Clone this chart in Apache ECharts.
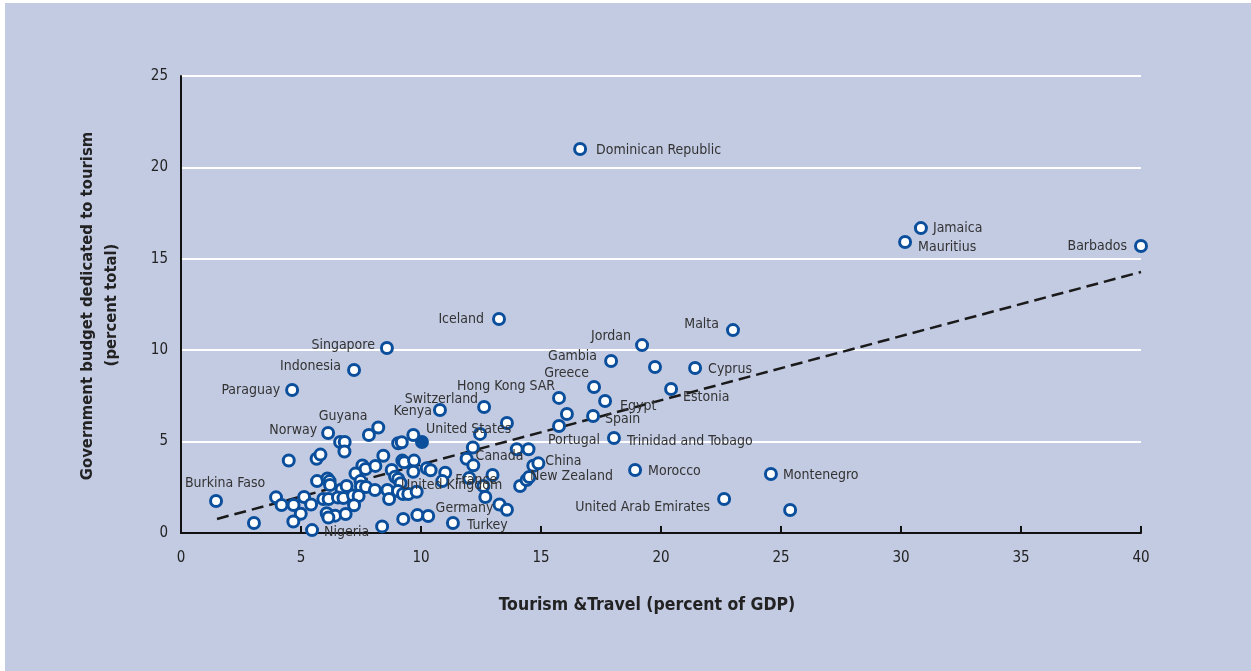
<!DOCTYPE html>
<html><head><meta charset="utf-8">
<script src="https://cdn.jsdelivr.net/npm/echarts@6/dist/echarts.min.js"></script>
<style>
html,body{margin:0;padding:0;background:#ffffff;width:1251px;height:671px;overflow:hidden}
#chart{position:absolute;left:5px;top:3px;width:1246px;height:668px;}
</style>
</head><body><div id="chart"></div>
<script>
// ---- data ----
const countries = [
 'Dominican Republic','Jamaica','Mauritius','Barbados','Iceland','Malta','Singapore','Jordan','Gambia','Indonesia',
 '','Cyprus','Paraguay','Greece','Estonia','Hong Kong SAR','Egypt','Switzerland','Kenya','Spain',
 '','','Portugal','','Trinidad and Tobago','United States','Morocco','Montenegro','United Arab Emirates','',
 'Burkina Faso','Nigeria','Turkey','','Norway','Guyana','','','','',
 '','','','','','','','','','',
 '','','','','','','','','','',
 '','','','','','','','','','',
 '','','','','','','','','','',
 '','','','','','','','','France','United Kingdom',
 '','','','','','','','','','',
 '','','Canada','','','','','China','','',
 '','','New Zealand','','','Germany',''
];
const tourismGDP = [
 16.63,30.83,30.17,40.0,13.25,23.0,8.58,19.21,17.92,7.21,
 19.75,21.42,4.63,17.21,20.42,15.75,17.67,12.63,10.79,17.17,
 16.08,13.58,15.75,12.46,18.04,10.04,18.92,24.58,22.63,25.38,
 1.46,5.46,11.33,3.04,6.13,6.63,6.82,6.81,7.83,8.22,
 4.49,5.65,5.81,7.56,7.69,8.10,7.27,5.67,6.10,6.19,
 6.21,6.69,6.90,7.48,7.50,7.71,8.08,3.96,4.19,4.69,
 5.13,5.42,5.93,6.15,6.54,6.77,7.17,7.40,7.21,4.99,
 4.68,6.07,6.42,6.86,6.14,8.38,9.68,9.05,9.20,8.43,
 9.22,9.30,9.71,8.78,9.68,10.24,10.40,11.01,10.89,8.92,
 9.05,9.15,8.60,8.67,9.04,9.25,9.47,9.82,9.26,9.85,
 10.30,12.16,11.90,12.18,13.99,14.48,14.68,14.89,12.98,12.01,
 12.60,12.68,14.13,14.40,14.51,13.27,13.58
];
const budgetShare = [
 21.01,16.68,15.92,15.70,11.71,11.10,10.12,10.28,9.41,8.92,
 9.08,9.03,7.82,7.99,7.88,7.39,7.22,6.89,6.73,6.40,
 6.51,6.02,5.85,5.42,5.20,4.98,3.45,3.23,1.86,1.26,
 1.75,0.16,0.55,0.55,5.47,4.98,4.98,4.46,5.36,5.77,
 3.97,4.06,4.29,3.69,3.50,3.67,3.25,2.84,2.98,2.84,
 2.63,2.38,2.57,2.84,2.54,2.52,2.35,1.95,1.53,1.53,
 1.97,1.56,1.86,1.86,1.94,1.91,2.05,2.02,1.52,1.05,
 0.63,1.08,0.95,1.04,0.85,0.36,5.36,4.91,4.96,4.23,
 3.96,3.87,3.96,3.45,3.35,3.54,3.43,3.30,2.84,3.08,
 2.95,2.72,2.35,1.86,2.30,2.13,2.13,2.26,0.77,0.98,
 0.93,4.68,4.06,3.70,4.58,4.58,3.68,3.81,3.17,3.01,
 2.57,1.97,2.57,2.90,3.06,1.56,1.27
];
const highlighted = ['United States'];
const trendX = [1.5, 40];
const trendY = [0.77, 14.28];
const xTitle = 'Tourism &Travel (percent of GDP)';
const yTitle1 = 'Government budget dedicated to tourism';
const yTitle2 = '(percent total)';

// ---- label placement (style only: align, pixel offsets) ----
const labelPlacement = {
 'Dominican Republic':['left',16,1],'Jamaica':['left',12,0],'Mauritius':['left',13,5],'Barbados':['right',-14,0],
 'Iceland':['right',-15,0],'Malta':['right',-14,-6],'Singapore':['right',-12,-3],'Jordan':['right',-11,-9],
 'Gambia':['right',-14,-5],'Indonesia':['right',-13,-4],'Cyprus':['left',13,1],'Paraguay':['right',-12,0],
 'Greece':['right',-5,-14],'Estonia':['left',12,8],'Hong Kong SAR':['right',-4,-12],'Egypt':['left',15,5],
 'Switzerland':['right',-6,-8],'Kenya':['right',-8,1],'Spain':['left',12,3],'United States':['left',4,-13],
 'Portugal':['center',15,14],'Trinidad and Tobago':['left',13,3],'Canada':['left',9,-2],'China':['left',7,-2],
 'France':['left',13,-1],'New Zealand':['left',10,-10],'United Kingdom':['left',6,9],'Morocco':['left',13,1],
 'Montenegro':['left',12,1],'United Arab Emirates':['right',-14,8],'Germany':['right',-6,4],'Turkey':['left',14,2],
 'Burkina Faso':['center',9,-18],'Nigeria':['left',12,2],'Norway':['right',-11,-3],'Guyana':['center',3,-26]
};

const FONT = "'DejaVu Sans Condensed','Liberation Sans Narrow',sans-serif";
const BLUE = '#0b4f9c';

const points = tourismGDP.map((x, i) => {
  const name = countries[i];
  const item = { value: [x, budgetShare[i]], name: name };
  if (highlighted.includes(name)) item.itemStyle = { color: BLUE };
  const lp = labelPlacement[name];
  if (name && lp) {
    item.label = { show: true, position: 'inside', align: lp[0], verticalAlign: 'middle',
      offset: [lp[1], lp[2]], formatter: '{b}', color: '#333', fontSize: 14, fontFamily: FONT };
  }
  return item;
});

const chart = echarts.init(document.getElementById('chart'), null, { renderer: 'canvas' });
chart.setOption({
  backgroundColor: '#c3cbe3',
  animation: false,
  grid: { left: 176, top: 73, width: 960, height: 457, containLabel: false },
  xAxis: {
    type: 'value', min: 0, max: 40, interval: 5,
    axisLine: { show: true, onZero: false, lineStyle: { color: '#111', width: 2 } },
    axisTick: { show: true, inside: true, length: 7, lineStyle: { color: '#111', width: 2 } },
    axisLabel: { margin: 18, fontSize: 15, color: '#222', fontFamily: FONT },
    splitLine: { show: false }
  },
  yAxis: {
    type: 'value', min: 0, max: 25, interval: 5,
    axisLine: { show: true, lineStyle: { color: '#111', width: 2 } },
    axisTick: { show: false },
    axisLabel: { margin: 13, fontSize: 15, color: '#222', fontFamily: FONT },
    splitLine: { show: true, lineStyle: { color: '#ffffff', width: 2 } }
  },
  graphic: [
    { type: 'text', x: 642, y: 602, style: { text: xTitle, font: "bold 17.5px " + FONT, fill: '#222', textAlign: 'center', textVerticalAlign: 'middle' } },
    { type: 'text', x: 83, y: 303, rotation: Math.PI / 2, style: { text: yTitle1, font: "bold 16.5px " + FONT, fill: '#222', textAlign: 'center', textVerticalAlign: 'middle' } },
    { type: 'text', x: 107, y: 302, rotation: Math.PI / 2, style: { text: yTitle2, font: "bold 16.5px " + FONT, fill: '#222', textAlign: 'center', textVerticalAlign: 'middle' } }
  ],
  series: [
    { type: 'line', data: trendX.map((x, i) => [x, trendY[i]]), symbol: 'none', silent: true, z: 2,
      lineStyle: { color: '#1a1a1a', width: 2.5, type: [12, 6] } },
    { type: 'scatter', data: points, symbol: 'circle', symbolSize: 11, z: 3,
      itemStyle: { color: '#ffffff', borderColor: BLUE, borderWidth: 3, opacity: 1 },
      emphasis: { disabled: true } }
  ]
});
</script>
</body></html>
